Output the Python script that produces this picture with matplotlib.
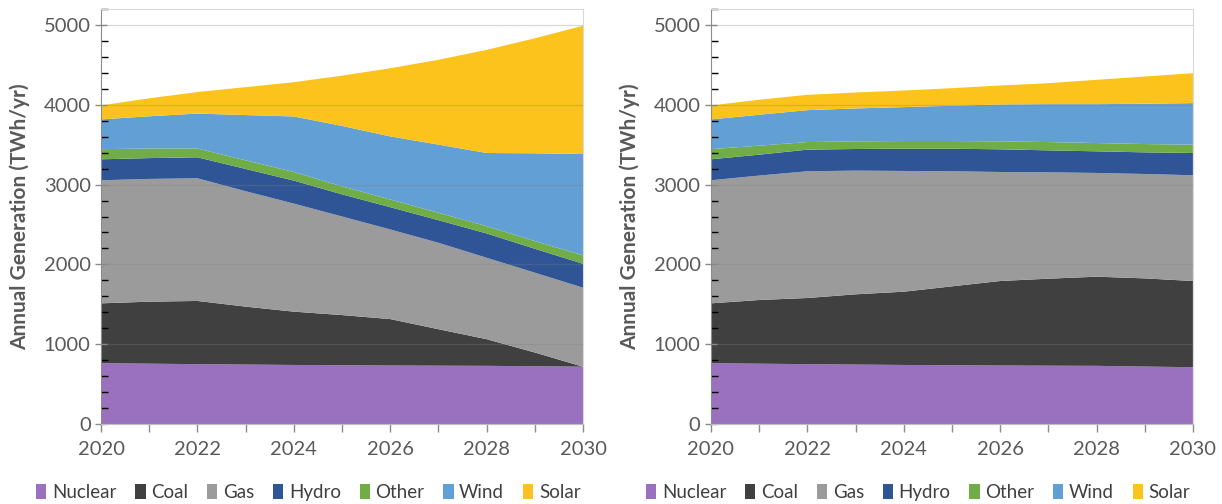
"""
Annual generation by source, 2020-2030: two stacked-area scenarios side by side.
"""

import matplotlib.pyplot as plt
from matplotlib.patches import Patch
from matplotlib.ticker import MultipleLocator

years = list(range(2020, 2031))
sources = ["Nuclear", "Coal", "Gas", "Hydro", "Other", "Wind", "Solar"]
colors = ["#9a71be", "#404040", "#9b9b9b", "#2f5597", "#70ad47", "#629fd5", "#fbc31c"]

# left scenario (TWh/yr)
left_nuclear = [762, 756, 750, 745, 740, 737, 733, 731, 729, 724, 718]
left_coal = [750, 777, 792, 726, 668, 628, 582, 457, 334, 172, 0]
left_gas = [1542, 1538, 1537, 1446, 1354, 1235, 1123, 1083, 1020, 1000, 990]
left_hydro = [263, 261, 263, 279, 288, 278, 279, 283, 305, 300, 300]
left_other = [127, 120, 110, 108, 108, 100, 96, 93, 91, 96, 105]
left_wind = [373, 404, 438, 567, 696, 757, 791, 854, 917, 1100, 1270]
left_solar = [175, 225, 270, 350, 429, 630, 854, 1063, 1292, 1441, 1607]

# right scenario (TWh/yr)
right_nuclear = [762, 756, 750, 745, 740, 737, 733, 731, 729, 720, 712]
right_coal = [750, 798, 829, 880, 918, 988, 1059, 1090, 1117, 1105, 1080]
right_gas = [1542, 1559, 1588, 1550, 1513, 1442, 1366, 1333, 1300, 1308, 1325]
right_hydro = [263, 262, 271, 271, 279, 283, 284, 275, 271, 271, 279]
right_other = [127, 113, 95, 96, 96, 96, 100, 104, 104, 104, 104]
right_wind = [373, 387, 400, 412, 425, 442, 462, 475, 487, 505, 521]
right_solar = [175, 188, 192, 200, 208, 220, 238, 263, 305, 341, 375]

left_series = [left_nuclear, left_coal, left_gas, left_hydro, left_other, left_wind, left_solar]
right_series = [right_nuclear, right_coal, right_gas, right_hydro, right_other, right_wind, right_solar]

plt.rcParams["font.family"] = ["Lato", "DejaVu Sans"]
text_grey = "#595959"

fig = plt.figure(figsize=(12.22, 5.04), dpi=100)


def draw_panel(ax, series):
    ax.stackplot(years, *series, colors=colors, linewidth=0)
    ax.set_xlim(2020, 2030)
    ax.set_ylim(0, 5200)
    ax.set_yticks(range(0, 5001, 1000))
    ax.yaxis.set_minor_locator(MultipleLocator(200))
    ax.set_xticks(years)
    ax.set_xticklabels([str(y) if y % 2 == 0 else "" for y in years])
    ax.tick_params(axis="both", labelsize=14.5, labelcolor=text_grey, colors="#8c8c8c")
    ax.tick_params(axis="y", which="major", direction="inout", length=8, width=1)
    ax.tick_params(axis="y", which="minor", direction="in", length=5, width=1)
    ax.tick_params(axis="x", which="major", direction="out", length=6, width=1, pad=6)
    for y in range(1000, 5001, 1000):
        ax.axhline(y, color="#7f7f7f", alpha=0.3, lw=0.9, zorder=3)
    ax.spines["left"].set_color("#8c8c8c")
    ax.spines["bottom"].set_color("#bfbfbf")
    ax.spines["top"].set_color("#d9d9d9")
    ax.spines["right"].set_color("#d9d9d9")
    ax.set_ylabel("Annual Generation (TWh/yr)", fontsize=15, fontweight="bold",
                  color=text_grey)
    ax.yaxis.set_label_coords(-0.148, 0.5)
    handles = [Patch(facecolor=c, edgecolor="none") for c in colors]
    ax.legend(handles, sources, loc="upper center", bbox_to_anchor=(0.43, -0.112),
              ncol=7, frameon=False, fontsize=13.5, handlelength=0.55, handleheight=0.9,
              handletextpad=0.3, columnspacing=1.0, labelcolor="#404040",
              borderpad=0.2)


ax1 = fig.add_axes([0.0827, 0.1587, 0.3944, 0.8234])
draw_panel(ax1, left_series)
ax2 = fig.add_axes([0.5818, 0.1587, 0.3944, 0.8234])
draw_panel(ax2, right_series)

fig.savefig("out.png", dpi=100)
